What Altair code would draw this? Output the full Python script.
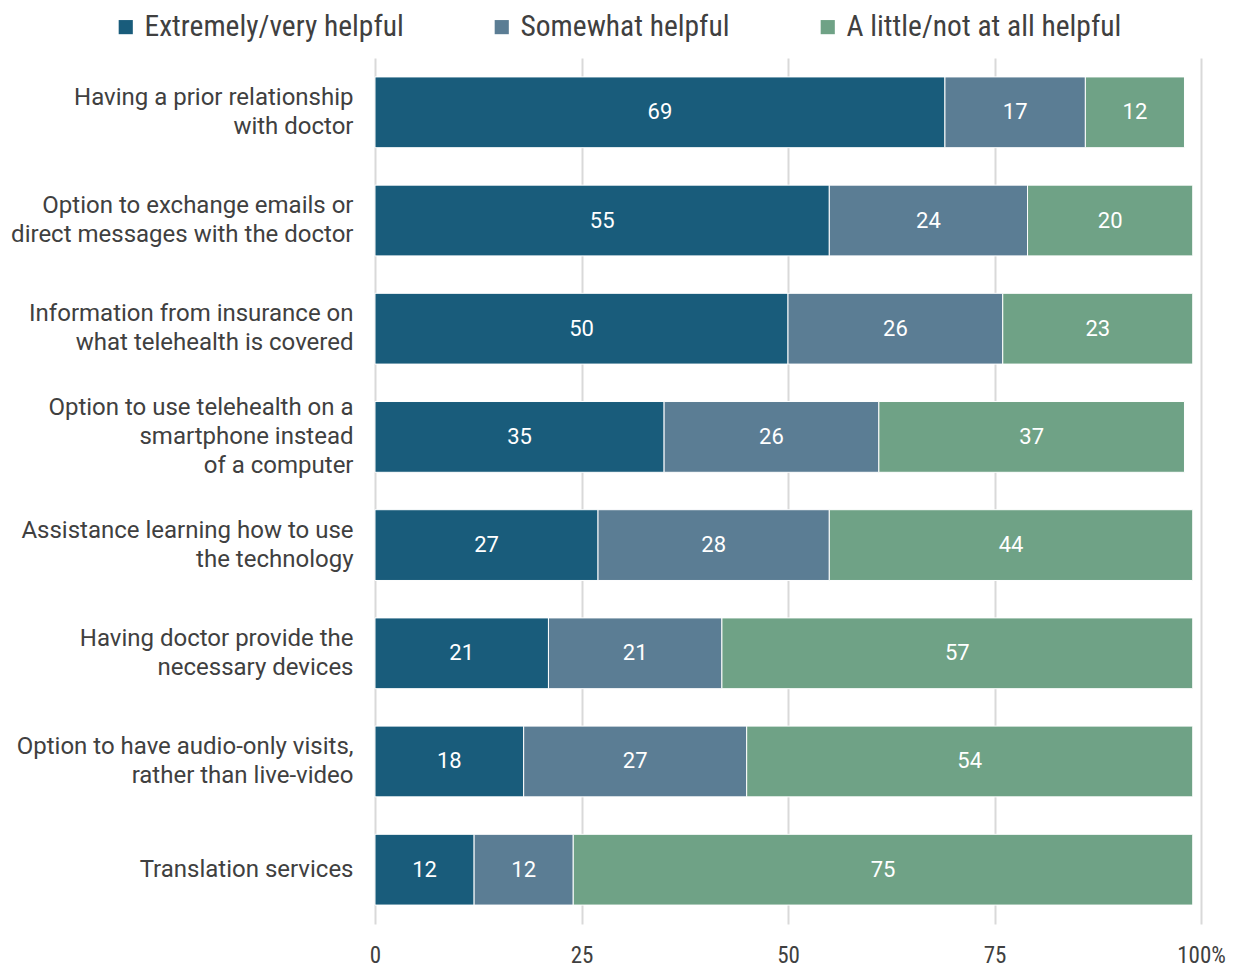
import altair as alt
import pandas as pd

categories = [
    "Having a prior relationship|with  doctor",
    "Option to exchange emails or|direct messages with the doctor",
    "Information from insurance on|what telehealth is covered",
    "Option to use telehealth on a|smartphone instead|of a computer",
    "Assistance learning how to use|the technology",
    "Having doctor provide the|necessary devices",
    "Option to have audio-only visits,|rather than live-video",
    "Translation services",
]
series = ["Extremely/very helpful", "Somewhat helpful", "A little/not at all helpful"]
extremely = [69, 55, 50, 35, 27, 21, 18, 12]
somewhat = [17, 24, 26, 26, 28, 21, 27, 12]
little = [12, 20, 23, 37, 44, 57, 54, 75]
colors = ["#195c7b", "#5b7d94", "#6fa286"]
x_ticks = [0, 25, 50, 75, 100]

rows = []
for i, c in enumerate(categories):
    for k, (s, vals) in enumerate(zip(series, [extremely, somewhat, little])):
        rows.append({"category": c, "series": s, "value": vals[i], "order": k})
df = pd.DataFrame(rows)

narrow = "Roboto Condensed, Liberation Sans Narrow, Roboto"

base = alt.Chart(df).transform_stack(
    stack="value", groupby=["category"], as_=["start", "end"],
    sort=[alt.SortField("order", order="ascending")]
).transform_calculate(mid="(datum.start + datum.end) / 2")

y_enc = alt.Y(
    "category:N", sort=categories, title=None,
    scale=alt.Scale(paddingInner=0.346, paddingOuter=0.175),
    axis=alt.Axis(
        labelExpr="split(datum.label, '|')", labelFont="Roboto", labelFontSize=24,
        labelColor="#404040", labelPadding=22, labelLineHeight=29, labelLimit=400,
        labelOffset=alt.ExprRef(expr="-(length(split(datum.value, '|')) - 1) * 14.5"),
        ticks=False, domain=False,
    ),
)

bars = base.mark_bar(stroke="white", strokeWidth=1).encode(
    y=y_enc,
    x=alt.X(
        "start:Q", title=None,
        scale=alt.Scale(domain=[0, 100], nice=False),
        axis=alt.Axis(
            values=x_ticks, labelExpr="datum.value == 100 ? '100%' : datum.label",
            labelFont=narrow, labelFontSize=23, labelColor="#404040", labelPadding=20,
            labelFlush=False,
            ticks=False, domain=False, grid=True, gridColor="#d9d9d9", gridWidth=2,
        ),
    ),
    x2="end:Q",
    color=alt.Color(
        "series:N", sort=series, title=None,
        scale=alt.Scale(domain=series, range=colors),
        legend=alt.Legend(
            orient="none", direction="horizontal", legendX=-264, legendY=-46,
            symbolType="square", symbolSize=200, symbolStrokeWidth=0,
            labelFont=narrow, labelFontSize=29.5, labelColor="#404040",
            labelLimit=500, columnPadding=83, labelOffset=4,
        ),
    ),
)

labels = base.mark_text(color="white", font="Roboto", fontSize=22).encode(
    y=alt.Y("category:N", sort=categories),
    x=alt.X("mid:Q"),
    text=alt.Text("value:Q"),
)

chart = alt.layer(bars, labels).properties(
    width=826, height=866,
    padding={"left": 2, "top": 4, "right": 0, "bottom": 0},
    background="white",
).configure_view(strokeWidth=0, stroke=None)

chart.save("out.html", embed_options={"renderer": "svg", "actions": False})
